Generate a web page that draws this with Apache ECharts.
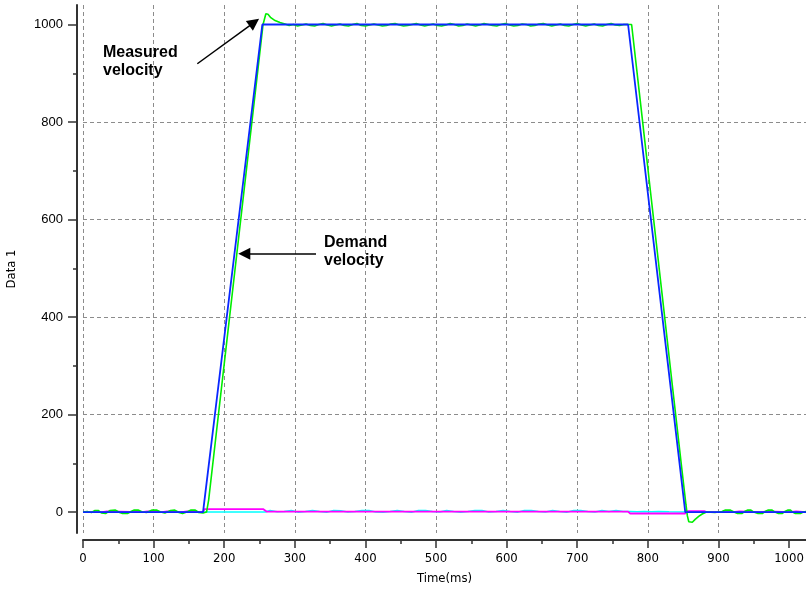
<!DOCTYPE html>
<html>
<head>
<meta charset="utf-8">
<script src="https://cdn.jsdelivr.net/npm/echarts@6/dist/echarts.min.js"></script>
<style>html,body{margin:0;padding:0;background:#fff}#c{width:806px;height:591px}</style>
</head>
<body>
<div id="c"></div>
<script>
// ---- tick values ----
const xTicks = [0,100,200,300,400,500,600,700,800,900,1000];
const xMinorTicks = [50,150,250,350,450,550,650,750,850,950];
const yTicks = [0,200,400,600,800,1000];
const yMinorTicks = [100,300,500,700,900];

// ---- demand velocity (blue) ----
const demandTime  = [0, 170, 254, 772, 853, 1024];
const demandValue = [0, 0, 1000, 1000, 0, 0];

// ---- measured velocity (green) ----
const measuredTime = [
  0,6,12,17,22,26,32,38,46,52,56,63,68,72,78,84,90,98,104,110,116,124,130,136,141,147,153,159,164,170,175,
  178,190,205,220,235,248,255,259,262,266,272,279,
  286,292,298,304,310,316,322,328,334,340,346,352,358,364,370,376,382,388,394,400,406,412,418,424,430,436,442,448,454,460,466,472,478,484,490,496,502,508,514,520,526,532,538,544,550,556,562,568,574,580,586,592,598,604,610,616,622,628,634,640,646,652,658,664,670,676,682,688,694,700,706,712,718,724,730,736,742,748,754,760,766,772,
  777,790,805,820,835,848,854,856,858,860,863,867,872,877,883,
  895,905,910,917,922,927,933,937,941,946,950,956,962,966,970,976,980,985,990,994,998,1002,1005,1009,1016,1020,1024
];
const measuredValue = [
  0,1,-1,3,3,-2,-3,3,4,-1,-3,-3,1,4,4,0,-1,4,4,0,-2,3,4,-1,-3,0,4,4,-1,-2,0,
  25,177,367,557,747,911,1000,1022,1021,1014,1008,1004,
  1001,998,1000,997,999,1001,998,997,1000,1002,999,997,999,1001,998,997,1000,1002,998,997,999,1001,999,997,998,1001,1002,999,997,998,1000,1002,999,997,999,1001,998,997,999,1002,1000,997,998,1001,999,997,999,1002,1000,998,997,1000,1002,999,997,998,1001,1000,997,998,1001,1002,999,997,999,1001,998,997,1000,1002,999,997,999,1001,998,997,1000,1002,999,998,1000,1000,
  1000,834,641,449,256,90,15,-8,-20,-23,-21,-15,-9,-4,0,
  -1,1,4,4,0,-3,-3,1,4,4,0,-3,-3,1,4,4,0,-3,-3,1,4,4,0,-3,-3,0,1
];

// ---- magenta trace ----
const magentaTime = [0,27,28,34,35,84,85,91,92,112,113,119,120,140,141,147,148,170,172,255,260,772,775,853,856,880,883,920,921,930,931,960,961,970,971,1000,1001,1010,1011,1024];
const magentaValue = [0,0,1.2,1.2,0,0,1.2,1.2,0,0,1.2,1.2,0,0,1.2,1.2,0,0,6,6,1,1,-3,-3,2,2,0,0,1.2,1.2,0,0,1.2,1.2,0,0,1.2,1.2,0,0];

// ---- cyan trace ----
const cyanTime = [0,258,265,275,285,295,305,315,325,335,345,355,365,375,385,395,405,415,425,435,445,455,465,475,485,495,505,515,525,535,545,555,565,575,585,595,605,615,625,635,645,655,665,675,685,695,705,715,725,735,745,755,765,775,785,795,805,815,830,853,1024];
const cyanValue = [0,0,3,0.5,1,3,-0.5,1,3.2,1,-0.5,3,2.5,0,1,3,3,0,-0.5,1,3,1,-0.5,3,3,1,0,3,1,-0.5,1,3,3,0,1,3,1,-0.5,3,3,1,0,3,1,-0.5,3,3,1,0,3,1,3,1,1,0.5,1,0.5,1,0.5,0,0];

// ---- annotations (data coordinates) ----
const noteTexts = ['Measured\nvelocity', 'Demand\nvelocity'];
const noteAnchors = [[28.3, 960], [341.4, 571]];
const arrowStarts = [[161.9, 919.5], [330, 530]];
const arrowEnds   = [[242.5, 1004.5], [228.5, 530]];

const zip = (t, v) => t.map((x, i) => [x, v[i]]);

const narrow = "'DejaVu Sans Condensed', 'Liberation Sans Narrow', sans-serif";
const sans = "'Liberation Sans', Arial, sans-serif";
const axisColor = '#333333';
const gridColor = '#8c8c8c';
const plain = v => String(v);

const chart = echarts.init(document.getElementById('c'), null, {renderer: 'canvas'});
chart.setOption({
  animation: false,
  backgroundColor: '#ffffff',
  grid: {left: 83, right: 0, top: 5, bottom: 58, containLabel: false, outerBoundsMode: 'none'},
  xAxis: [{
    type: 'value', min: 0, max: 1024, interval: 100, position: 'bottom', offset: 7,
    name: 'Time(ms)', nameLocation: 'middle', nameGap: 32,
    nameTextStyle: {fontFamily: narrow, fontSize: 13, color: '#000'},
    axisLine: {show: true, onZero: false, lineStyle: {color: axisColor, width: 2}},
    axisTick: {show: true, customValues: xTicks, length: 8, lineStyle: {color: axisColor, width: 1.5}},
    axisLabel: {customValues: xTicks, formatter: plain, margin: 12, fontFamily: narrow, fontSize: 13, color: '#000'},
    splitLine: {show: true, showMaxLine: false, lineStyle: {color: gridColor, type: [4, 3], width: 1}}
  }, {
    type: 'value', min: 0, max: 1024, position: 'bottom', offset: 7,
    axisLine: {show: false, onZero: false},
    axisTick: {show: true, customValues: xMinorTicks, length: 4, lineStyle: {color: axisColor, width: 1.5}},
    axisLabel: {show: false}, splitLine: {show: false}
  }],
  yAxis: [{
    type: 'value', min: -43, max: 1040, splitNumber: 5, minInterval: 200, maxInterval: 200,
    position: 'left', offset: 6,
    name: 'Data 1', nameLocation: 'middle', nameGap: 59,
    nameTextStyle: {fontFamily: narrow, fontSize: 13, color: '#000'},
    axisLine: {show: true, onZero: false, lineStyle: {color: axisColor, width: 2}},
    axisTick: {show: true, customValues: yTicks, length: 9, lineStyle: {color: axisColor, width: 1.5}},
    axisLabel: {customValues: yTicks, formatter: plain, margin: 14, fontFamily: sans, fontSize: 13, color: '#000'},
    splitLine: {show: true, showMinLine: false, showMaxLine: false, lineStyle: {color: gridColor, type: [4, 3], width: 1}}
  }, {
    type: 'value', min: -43, max: 1040, position: 'left', offset: 6,
    axisLine: {show: false, onZero: false},
    axisTick: {show: true, customValues: yMinorTicks, length: 4, lineStyle: {color: axisColor, width: 1.5}},
    axisLabel: {show: false}, splitLine: {show: false}
  }],
  series: [
    {type: 'line', name: 'cyan', data: zip(cyanTime, cyanValue), showSymbol: false, symbol: 'none',
     lineStyle: {color: '#00ffff', width: 1.6}, itemStyle: {color: '#00ffff'}, silent: true},
    {type: 'line', name: 'magenta', data: zip(magentaTime, magentaValue), showSymbol: false, symbol: 'none',
     lineStyle: {color: '#ff00ff', width: 1.8}, itemStyle: {color: '#ff00ff'}, silent: true},
    {type: 'line', name: 'Measured', data: zip(measuredTime, measuredValue), showSymbol: false, symbol: 'none',
     lineStyle: {color: '#00ee00', width: 1.6}, itemStyle: {color: '#00ee00'}, silent: true},
    {type: 'line', name: 'Demand', data: zip(demandTime, demandValue), showSymbol: false, symbol: 'none',
     lineStyle: {color: '#0a28ff', width: 1.8}, itemStyle: {color: '#0a28ff'}, silent: true,
     markLine: {
       silent: true, animation: false,
       symbol: ['none', 'triangle'], symbolSize: 12,
       lineStyle: {color: '#000', width: 1.5, type: 'solid'},
       itemStyle: {color: '#000'},
       label: {show: false}, emphasis: {disabled: true},
       data: arrowStarts.map((s, i) => [{coord: s}, {coord: arrowEnds[i]}])
     },
     markPoint: {
       silent: true, animation: false, symbol: 'rect', symbolSize: 0,
       itemStyle: {color: 'rgba(0,0,0,0)'},
       label: {show: true, position: [0, 0], align: 'left', verticalAlign: 'top',
               fontFamily: sans, fontWeight: 'bold', fontSize: 16, lineHeight: 18, color: '#000'},
       data: noteAnchors.map((c, i) => ({coord: c, label: {formatter: noteTexts[i]}}))
     }
    }
  ]
});
</script>
</body>
</html>
